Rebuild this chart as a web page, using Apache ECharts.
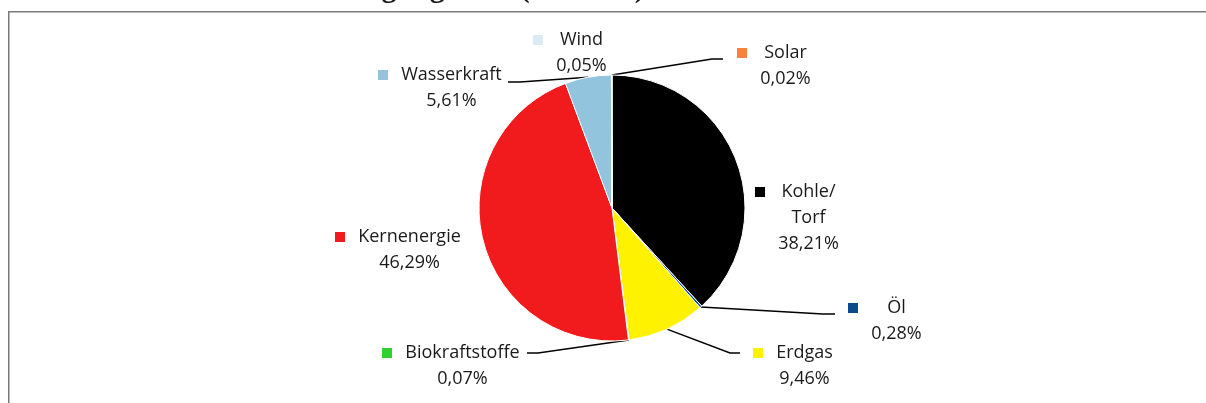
<!DOCTYPE html>
<html>
<head>
<meta charset="utf-8">
<script src="https://cdn.jsdelivr.net/npm/echarts@6/dist/echarts.min.js"></script>
<style>
html,body{margin:0;padding:0;background:#fff;}
#c{width:1206px;height:403px;}
</style>
</head>
<body>
<div id="c"></div>
<script>
// ---- data ----
const categories = ['Kohle/\nTorf', 'Öl', 'Erdgas', 'Biokraftstoffe', 'Kernenergie', 'Wasserkraft', 'Wind', 'Solar'];
const values = [38.21, 0.28, 9.46, 0.07, 46.29, 5.61, 0.05, 0.02];
const titleText = 'Stromerzeugung 2012 (Ukraine)';

// ---- style / layout ----
const colors = ['#000000', '#0b4a8b', '#fff200', '#2fd12f', '#f11a1c', '#93c4dd', '#dceaf3', '#f5823f'];
const labelAnchors = [[755, 218], [848, 321], [753, 366], [382, 366], [335, 250], [378, 88], [533, 53], [737, 66]];
const lineElbows = [null, [[823, 314], [835, 314]], [[730, 353], [740, 353]], [[538, 353], [527, 353]], null, [[520, 82], [508, 82]], null, [[712, 59], [723, 59]]];
const FONT_FAMILY = '"Open Sans", sans-serif';
const FONT_SIZE = 18;
const LINE_H = 26;

const ctx = document.createElement('canvas').getContext('2d');
ctx.font = FONT_SIZE + 'px ' + FONT_FAMILY;
function fmt(v) { return v.toFixed(2).replace('.', ',') + '%'; }

const data = categories.map(function (name, i) {
  const lines = name.split('\n').concat([fmt(values[i])]);
  let W = 0;
  lines.forEach(function (l) { W = Math.max(W, ctx.measureText(l).width); });
  W = Math.ceil(W) + 2;
  const txt = lines.map(function (l, k) {
    return (k === 0 ? '{m|}{g|}' : '{s|}') + '{n|' + l + '}';
  }).join('\n');
  return {
    name: name,
    value: values[i],
    itemStyle: { color: colors[i] },
    labelLine: { show: !!lineElbows[i], lineStyle: { color: '#000', width: 1.5 } },
    label: {
      show: true,
      formatter: txt,
      lineHeight: LINE_H,
      rich: {
        m: { width: 10, height: 10, backgroundColor: colors[i], verticalAlign: 'middle', lineHeight: LINE_H },
        g: { width: 12, lineHeight: LINE_H },
        s: { width: 22, lineHeight: LINE_H },
        n: { width: W, align: 'center', fontSize: FONT_SIZE, fontFamily: FONT_FAMILY, color: '#1a1a1a', lineHeight: LINE_H }
      }
    }
  };
});

const chart = echarts.init(document.getElementById('c'), null, { renderer: 'canvas' });
chart.setOption({
  animation: false,
  backgroundColor: '#ffffff',
  graphic: [
    {
      type: 'rect', silent: true, z: 0,
      shape: { x: 8.75, y: 11.75, width: 1300, height: 500 },
      style: { fill: 'none', stroke: '#7a7a7a', lineWidth: 1.5 }
    },
    {
      type: 'text', silent: true,
      x: 232, y: 4,
      style: { text: titleText, font: 'bold 30px "Liberation Serif", serif', fill: '#1a1a1a', align: 'left', verticalAlign: 'bottom' }
    }
  ],
  series: [{
    type: 'pie',
    center: [612, 208],
    radius: 133,
    startAngle: 90,
    clockwise: true,
    avoidLabelOverlap: false,
    silent: true,
    itemStyle: { borderColor: '#ffffff', borderWidth: 1 },
    label: { position: 'outside' },
    labelLine: { show: true, length: 10, length2: 10, lineStyle: { color: '#000', width: 1.5 } },
    emphasis: { disabled: true },
    labelLayout: function (p) {
      const i = p.dataIndex;
      const a = labelAnchors[i];
      const res = { x: a[0], y: a[1], align: 'left', verticalAlign: 'middle' };
      if (lineElbows[i] && p.labelLinePoints) {
        res.labelLinePoints = [p.labelLinePoints[0], lineElbows[i][0], lineElbows[i][1]];
      }
      return res;
    },
    data: data
  }]
});
</script>
</body>
</html>
